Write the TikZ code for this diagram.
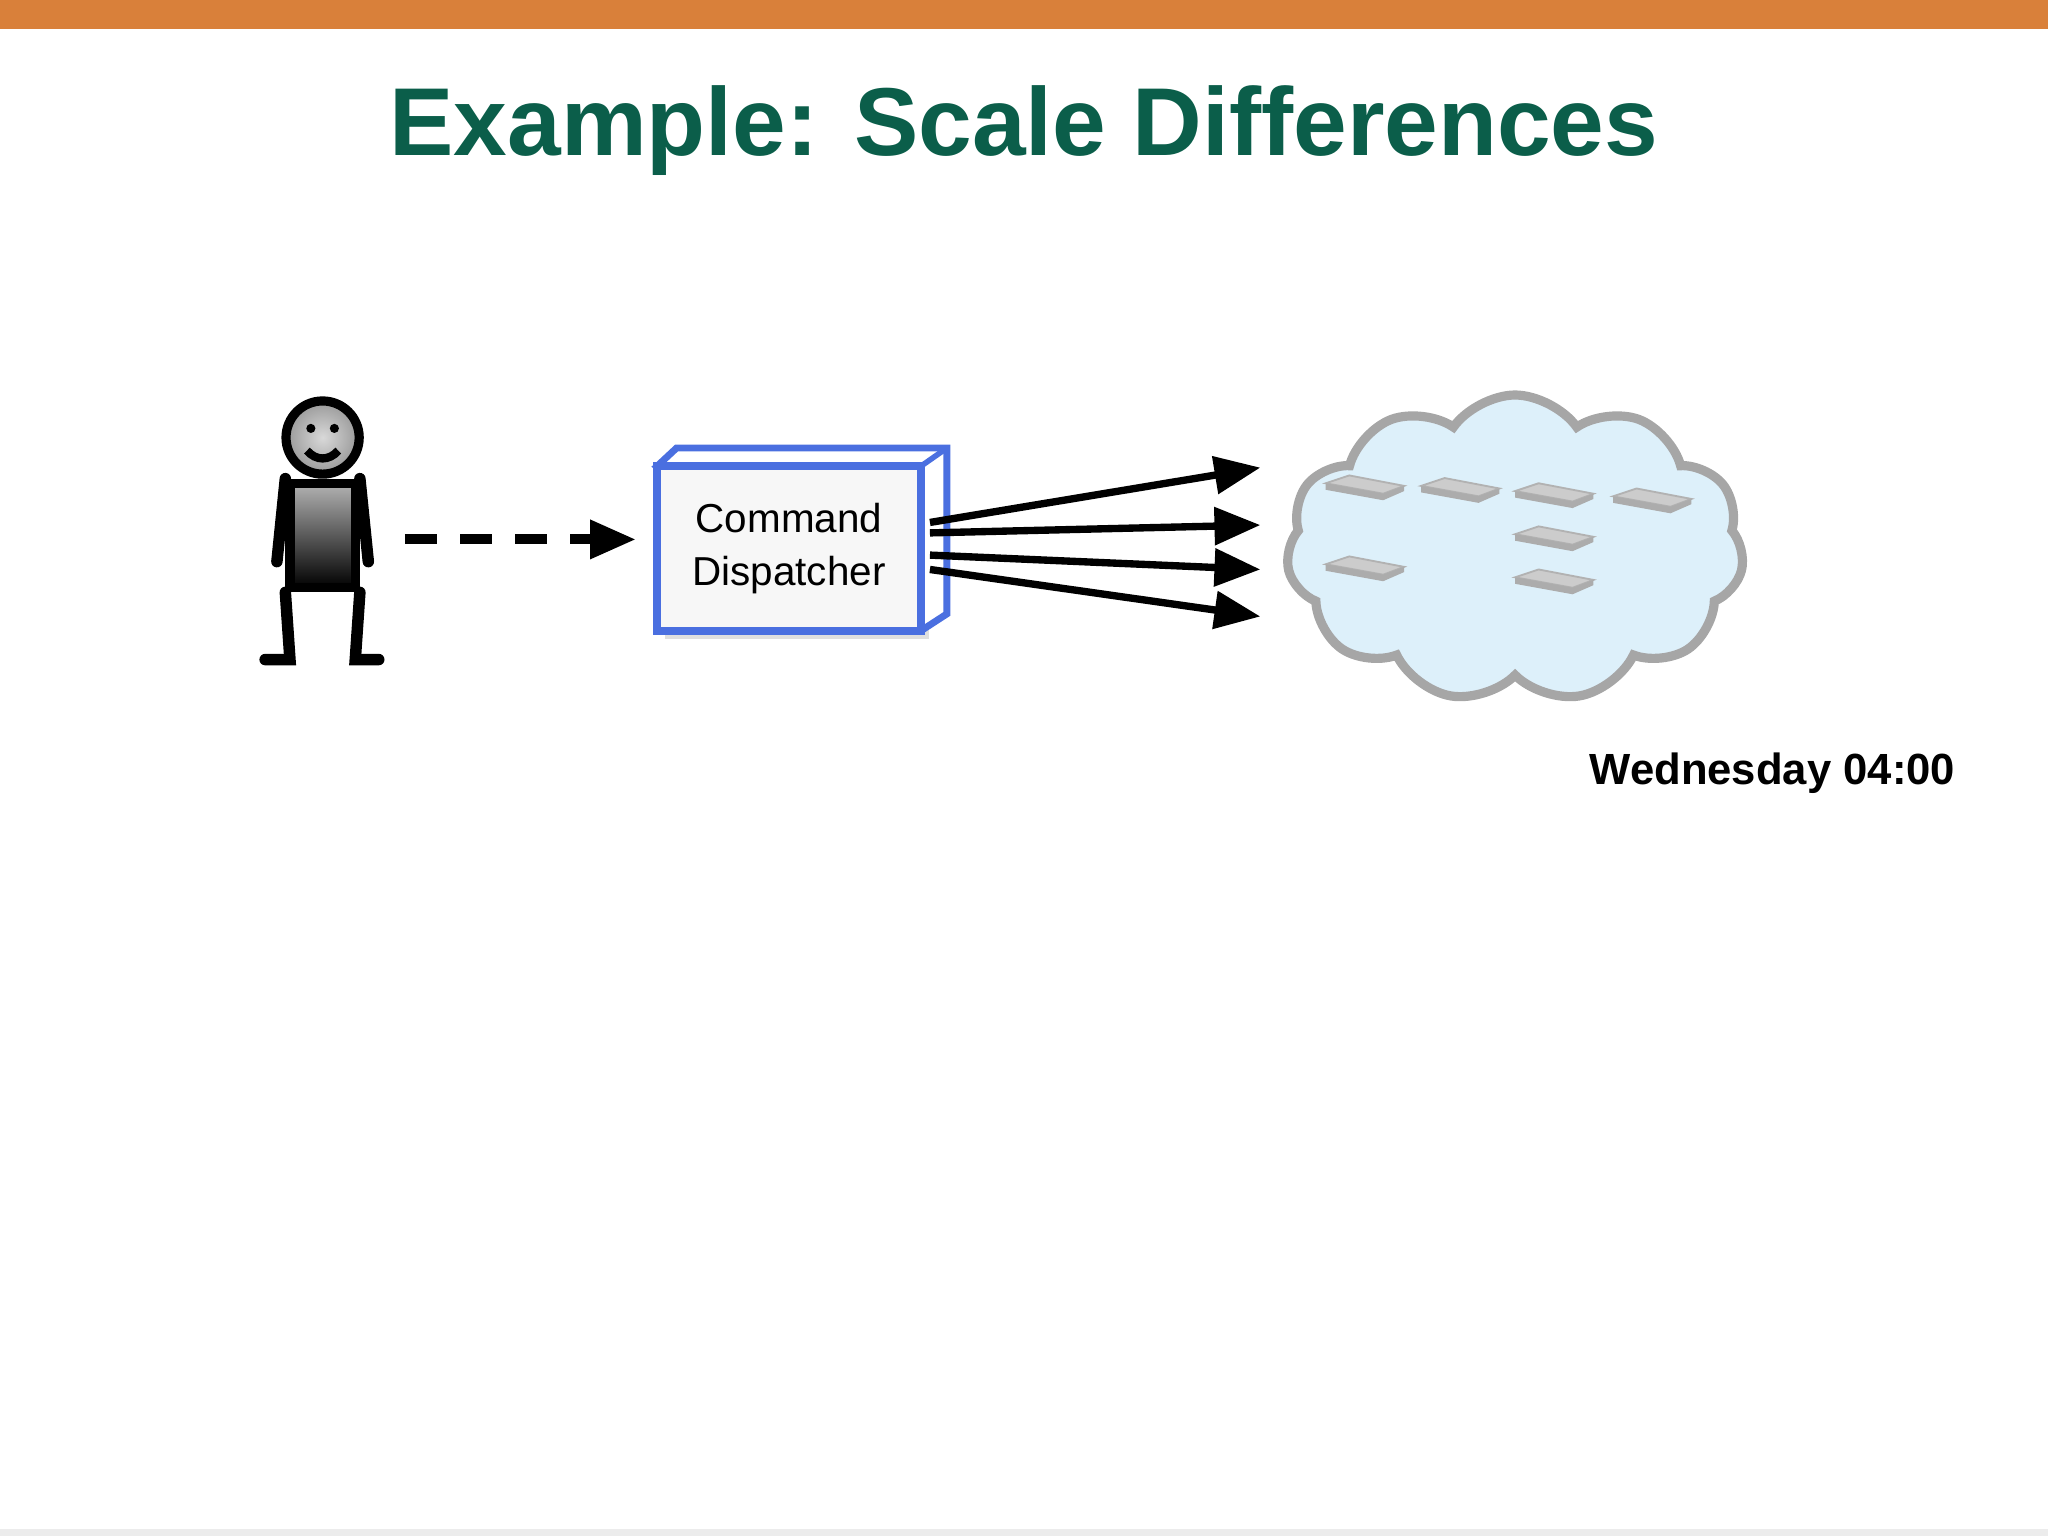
\documentclass[tikz,border=0pt]{standalone}
\usepackage{fontspec}
\setmainfont{Liberation Sans}
\usetikzlibrary{shapes.symbols,arrows.meta,shadings}
\definecolor{orangebar}{HTML}{D9803A}
\definecolor{titlegreen}{HTML}{0B5E4A}
\definecolor{boxblue}{HTML}{4A6FE0}
\definecolor{cloudfill}{HTML}{DDF0FA}
\tikzset{
 flow/.style={line width=1.6pt,-{Triangle[length=10pt,width=8pt]}},
 server/.style={fill=gray!40,draw=gray!60,line width=0.4pt}
}
\begin{document}
\begin{tikzpicture}[x=0.01cm,y=-0.01cm]
\useasboundingbox (0,0) rectangle (1568,1176);
\fill[orangebar] (0,0) rectangle (1568,22);
\fill[gray!15] (0,1171) rectangle (1568,1176);
\node[font=\bfseries\fontsize{21}{25}\selectfont,text=titlegreen] (title) at (784,100) {Example: Scale Differences};
% stick figure
\node[circle,draw=black,line width=2pt,minimum size=0.56cm,shading=radial,inner color=gray!30,outer color=gray!80,inner sep=0] (head) at (247,335) {};
\fill (238,328) circle (3.5); \fill (256,328) circle (3.5);
\draw[line width=1.8pt] (235,345) .. controls (242,353) and (252,353) .. (259,345);
\node[draw=black,line width=2pt,minimum width=0.5cm,minimum height=0.8cm,top color=gray!60,bottom color=black,inner sep=0] (body) at (247,410) {};
\draw[line width=2.5pt,line cap=round] (body.north west) -- (212,430);
\draw[line width=2.5pt,line cap=round] (body.north east) -- (282,430);
\draw[line width=2.5pt,line cap=round] (body.south west) -- (222,505) -- (203,505);
\draw[line width=2.5pt,line cap=round] (body.south east) -- (272,505) -- (290,505);
\coordinate (p) at (310,413);
% dispatcher box
\fill[gray!25] (509,363) rectangle (711,489);
\draw[boxblue,line width=1.5pt,fill=white] (503,357) -- (518,343) -- (725,343) -- (725,470) -- (705,483) -- cycle;
\node[draw=boxblue,line width=1.8pt,fill=gray!6,minimum width=2.02cm,minimum height=1.26cm,inner sep=0,align=center,font=\fontsize{8.8}{11.5}\selectfont] (cd) at (604,420) {Command\\Dispatcher};
\draw[boxblue,line width=1.2pt] (705,357) -- (725,343);
\draw[line width=2.2pt,dash pattern=on 7pt off 5pt,-{Triangle[length=10pt,width=8pt]}] (p) -- (487,413);
% cloud
\node[cloud,cloud puffs=11,cloud puff arc=110,aspect=1.5,draw=gray!70,line width=2pt,fill=cloudfill,minimum width=3.5cm,minimum height=2.35cm] (cloud) at (1160,420) {};
\coordinate (s1) at (712,400);\coordinate (s2) at (712,408);
\coordinate (s3) at (712,425);\coordinate (s4) at (712,436);
\coordinate (t1) at (965,358);\coordinate (t2) at (965,402);
\coordinate (t3) at (965,436);\coordinate (t4) at (965,472);
\draw[flow] (s1) -- (t1);
\draw[flow] (s2) -- (t2);
\draw[flow] (s3) -- (t3);
\draw[flow] (s4) -- (t4);
\foreach \x/\y in {1045/378,1118/380,1190/384,1265/388,1190/417,1045/440,1190/450}{
 \draw[server] (\x-30,\y-8) -- (\x-12,\y-14) -- (\x+30,\y-6) -- (\x+14,\y) -- cycle;
 \fill[gray!65] (\x-30,\y-8) -- (\x+14,\y) -- (\x+30,\y-6) -- (\x+30,\y-2) -- (\x+14,\y+5) -- (\x-30,\y-3) -- cycle;
}
\node[font=\bfseries\fontsize{9.5}{12}\selectfont] (time) at (1357,592) {Wednesday 04:00};
\end{tikzpicture}
\end{document}
